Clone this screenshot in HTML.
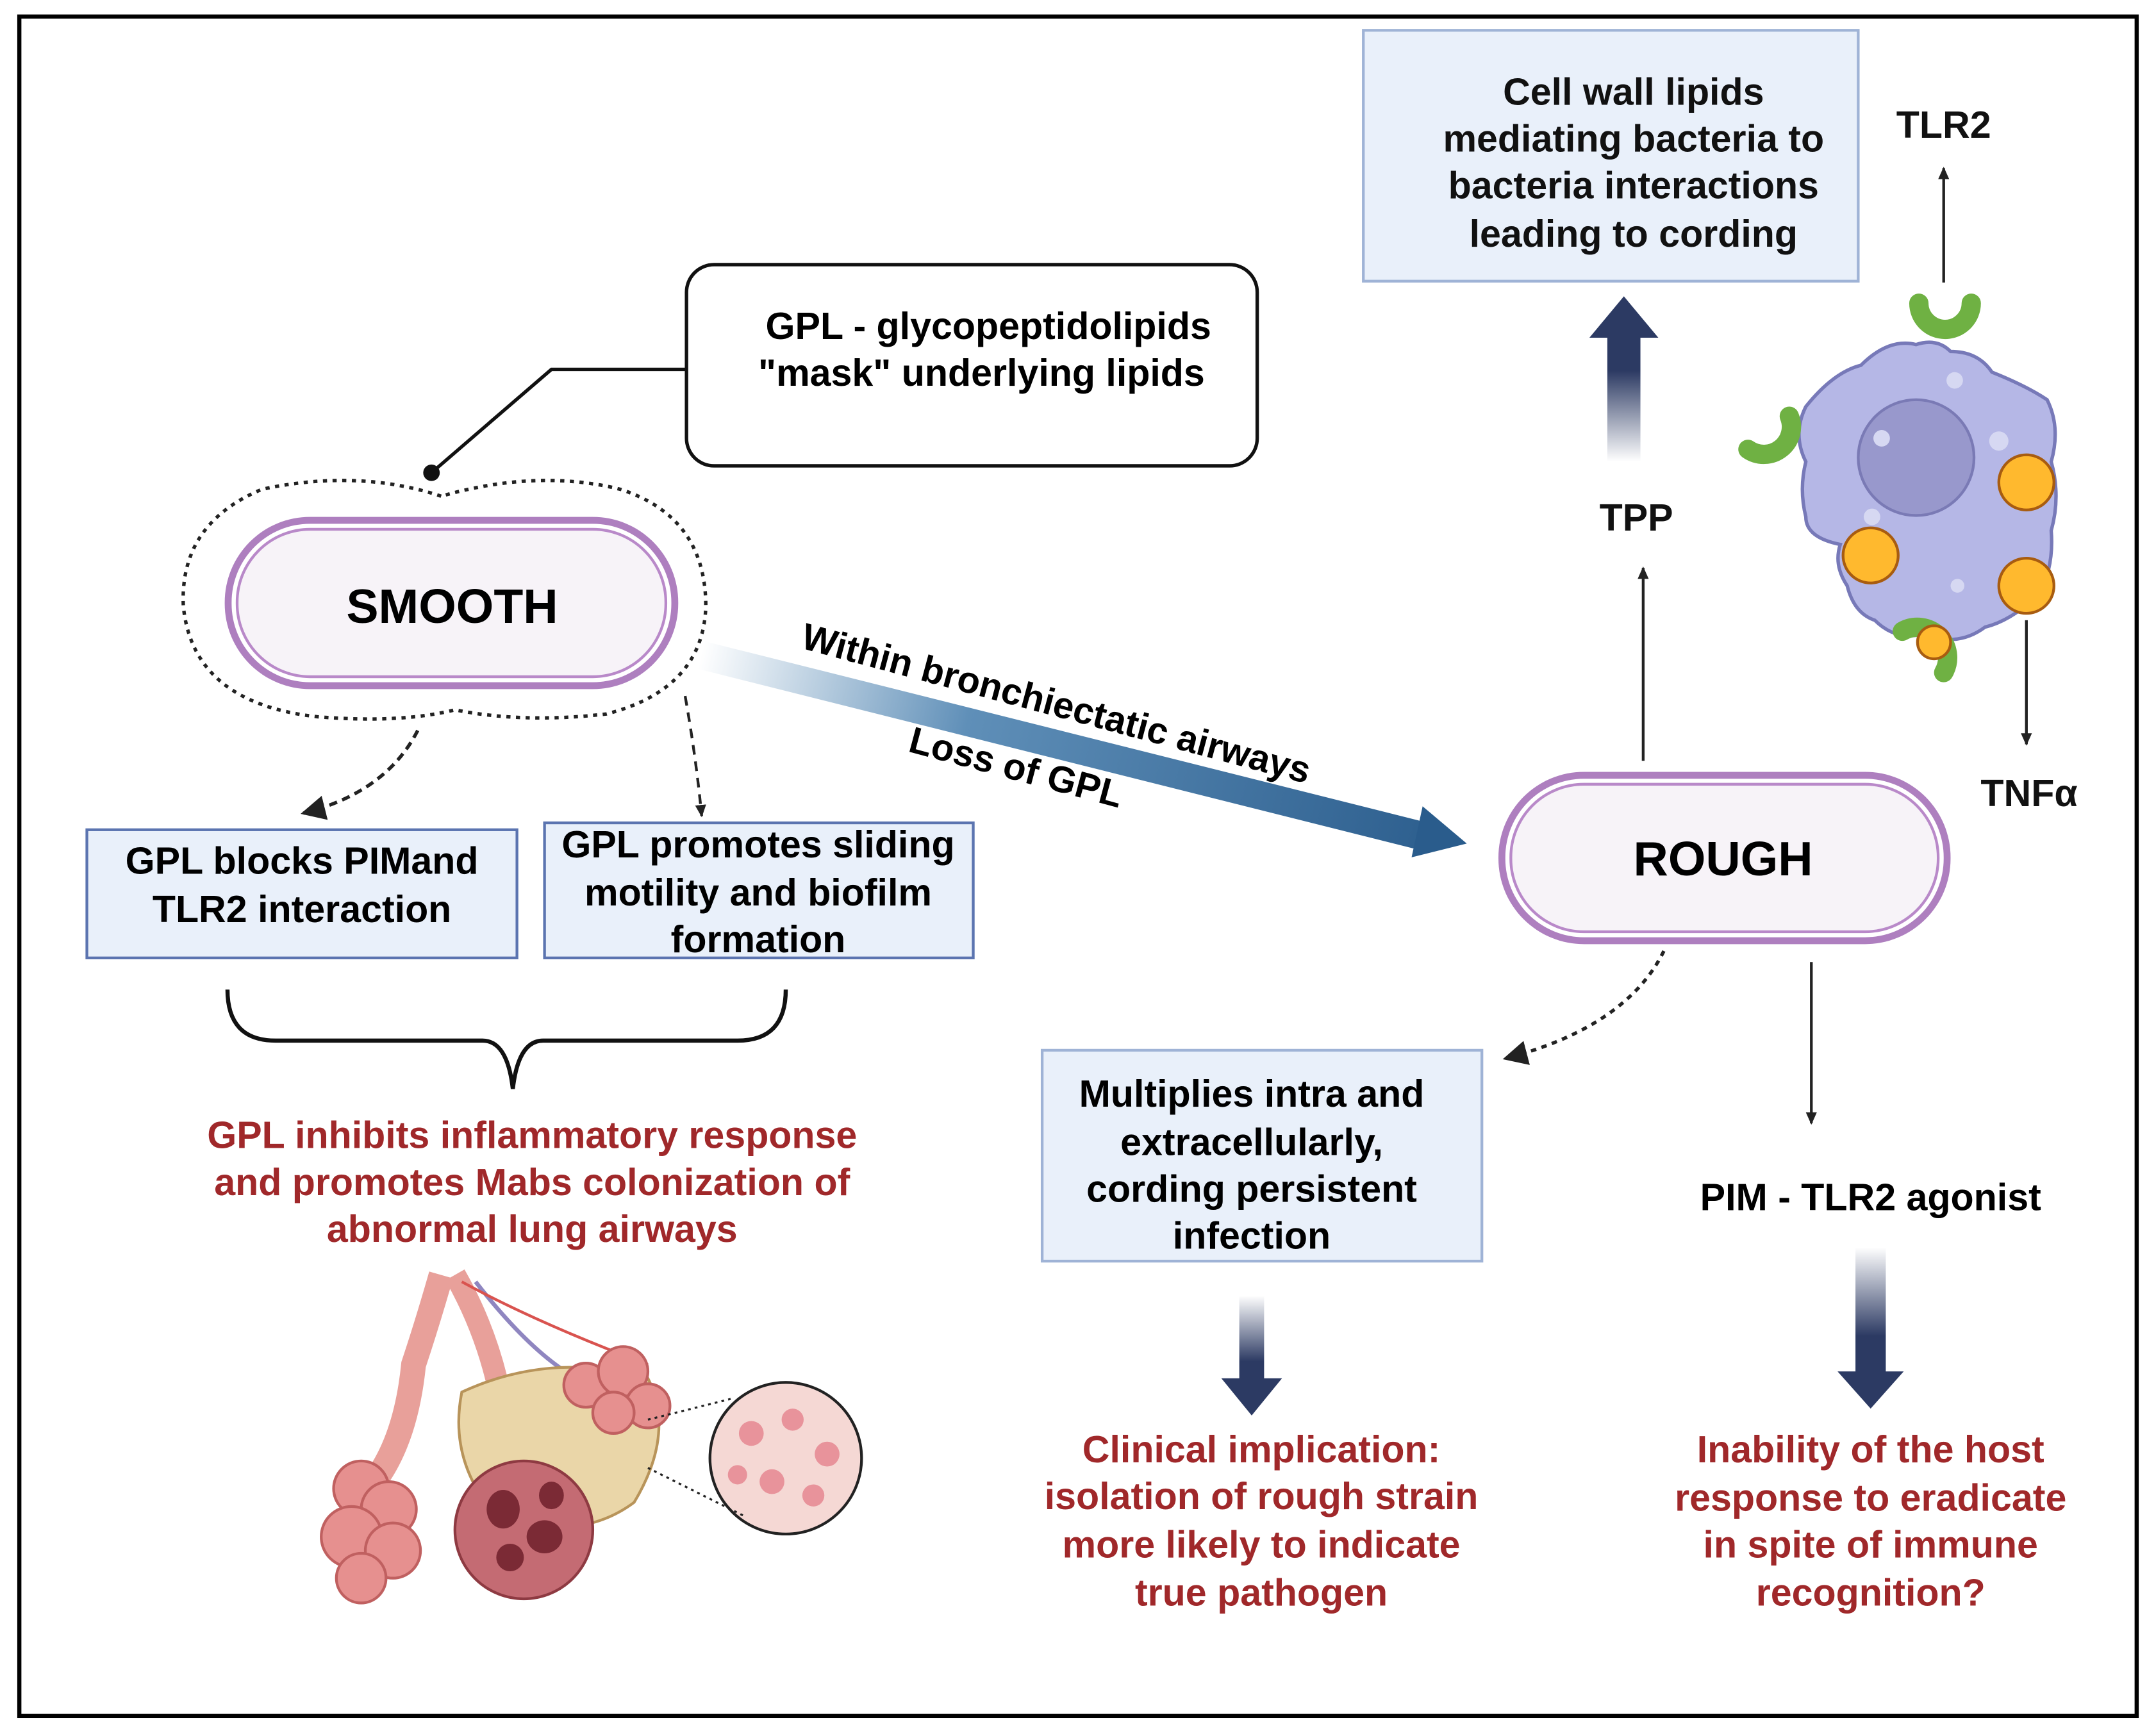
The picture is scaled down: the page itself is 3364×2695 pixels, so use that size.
<!DOCTYPE html>
<html><head><meta charset="utf-8"><style>
html,body{margin:0;padding:0;background:#fff;}
svg{display:block;}
text{font-family:"Liberation Sans",sans-serif;font-weight:bold;}
</style></head><body>
<svg width="3364" height="2695" viewBox="0 0 1564 1253" xmlns="http://www.w3.org/2000/svg">
<defs>
<linearGradient id="gup" x1="0" y1="1" x2="0" y2="0"><stop offset="0" stop-color="#fff"/><stop offset="0.55" stop-color="#2c3a63"/><stop offset="1" stop-color="#2c3a63"/></linearGradient>
<linearGradient id="gdn" x1="0" y1="0" x2="0" y2="1"><stop offset="0" stop-color="#fff"/><stop offset="0.55" stop-color="#2c3a63"/><stop offset="1" stop-color="#2c3a63"/></linearGradient>
<linearGradient id="gdiag" x1="510" y1="470" x2="1062" y2="610" gradientUnits="userSpaceOnUse"><stop offset="0" stop-color="#fff"/><stop offset="0.35" stop-color="#5f8fb8"/><stop offset="1" stop-color="#2a5c8c"/></linearGradient>
<marker id="ah" markerWidth="10" markerHeight="10" refX="8" refY="5" orient="auto" markerUnits="userSpaceOnUse"><path d="M0,1 L9,5 L0,9 Z" fill="#222"/></marker>
<marker id="ahb" markerWidth="20" markerHeight="20" refX="16" refY="9" orient="auto" markerUnits="userSpaceOnUse"><path d="M0,0 L18,9 L0,18 Z" fill="#222"/></marker>
</defs>
<rect x="14" y="12" width="1536" height="1233" fill="#fff" stroke="#000" stroke-width="3"/>

<rect x="989" y="22" width="359" height="182" fill="#e9f0fa" stroke="#9fb3d6" stroke-width="2"/>
<g font-size="27.5" text-anchor="middle" fill="#111">
<text x="1185" y="76">Cell wall lipids</text>
<text x="1185" y="110">mediating bacteria to</text>
<text x="1185" y="144">bacteria interactions</text>
<text x="1185" y="179">leading to cording</text>
<text x="1410" y="100">TLR2</text>
<text x="1187" y="385">TPP</text>
<text x="1472" y="585">TNFα</text>
</g>
<line x1="1410" y1="205" x2="1410" y2="122" stroke="#222" stroke-width="2" marker-end="url(#ah)"/>
<line x1="1192" y1="552" x2="1192" y2="412" stroke="#222" stroke-width="2" marker-end="url(#ah)"/>
<line x1="1470" y1="450" x2="1470" y2="540" stroke="#222" stroke-width="2" marker-end="url(#ah)"/>
<path d="M1166,335 L1166,245 L1153,245 L1178,215 L1203,245 L1190,245 L1190,335 Z" fill="url(#gup)"/>

<path d="M1310,295 Q1330,270 1350,265 Q1370,245 1390,250 Q1405,245 1415,255 Q1435,255 1445,270 Q1470,280 1485,290 Q1495,310 1488,335 Q1495,360 1488,385 Q1490,410 1480,430 Q1460,450 1440,455 Q1420,470 1395,460 Q1375,465 1360,450 Q1345,445 1340,425 Q1330,410 1335,395 Q1310,390 1310,375 Q1305,355 1310,335 Q1300,315 1310,295 Z" fill="#b5b7e6" stroke="#7779b8" stroke-width="2.5"/>
<circle cx="1390" cy="332" r="42" fill="#9898cc" stroke="#7a7ab5" stroke-width="2"/>
<g fill="#d6d8f2"><circle cx="1365" cy="318" r="6"/><circle cx="1418" cy="276" r="6"/><circle cx="1450" cy="320" r="7"/><circle cx="1358" cy="375" r="6"/><circle cx="1420" cy="425" r="5"/></g>
<g fill="#ffb92e" stroke="#a85c10" stroke-width="2"><circle cx="1470" cy="350" r="20"/><circle cx="1357" cy="403" r="20"/><circle cx="1470" cy="425" r="20"/></g>
<g fill="none" stroke="#6fb143" stroke-width="14" stroke-linecap="round">
<path d="M1392,220 A19,19 0 0 0 1430,220"/>
<path d="M1298,302 A20,20 0 0 1 1268,326"/>
<path d="M1380,458 A22,22 0 0 1 1410,488"/>
</g>
<circle cx="1403" cy="466" r="12" fill="#ffb92e" stroke="#a85c10" stroke-width="2"/>

<rect x="498" y="192" width="414" height="146" rx="20" fill="#fff" stroke="#111" stroke-width="2.5"/>
<text x="717" y="246" font-size="27.5" text-anchor="middle">GPL - glycopeptidolipids</text>
<text x="712" y="280" font-size="27.5" text-anchor="middle">"mask" underlying lipids</text>
<polyline points="498,268 400,268 313,343" fill="none" stroke="#111" stroke-width="2.5"/>
<circle cx="313" cy="343" r="6" fill="#111"/>

<path d="M320,360 Q260,340 190,355 Q130,380 133,440 Q140,510 230,520 Q290,525 330,515 Q380,525 440,518 Q510,500 512,440 Q512,375 450,355 Q390,340 320,360 Z" fill="none" stroke="#222" stroke-width="2.5" stroke-dasharray="3,4"/>
<rect x="163" y="375" width="329" height="125" rx="62" fill="#ae7fbf"/>
<rect x="168" y="380" width="319" height="115" rx="57" fill="#fff"/>
<rect x="172" y="384" width="311" height="107" rx="53" fill="#f7f3f8" stroke="#b989c9" stroke-width="2"/>
<text x="328" y="452" font-size="35" text-anchor="middle">SMOOTH</text>
<path d="M303,530 Q280,575 220,590" fill="none" stroke="#222" stroke-width="2.5" stroke-dasharray="6,4" marker-end="url(#ahb)"/>
<path d="M497,505 Q505,550 509,592" fill="none" stroke="#222" stroke-width="2" stroke-dasharray="7,5" marker-end="url(#ah)"/>

<rect x="63" y="602" width="312" height="93" fill="#e9f0fa" stroke="#5b74b0" stroke-width="2"/>
<text x="219" y="634" font-size="27.5" text-anchor="middle">GPL blocks PIMand</text>
<text x="219" y="669" font-size="27.5" text-anchor="middle">TLR2 interaction</text>
<rect x="395" y="597" width="311" height="98" fill="#e9f0fa" stroke="#5b74b0" stroke-width="2"/>
<text x="550" y="622" font-size="27.5" text-anchor="middle">GPL promotes sliding</text>
<text x="550" y="657" font-size="27.5" text-anchor="middle">motility and biofilm</text>
<text x="550" y="691" font-size="27.5" text-anchor="middle">formation</text>

<path d="M165,718 Q165,755 200,755 L350,755 Q368,755 372,790 Q376,755 394,755 L535,755 Q570,755 570,718" fill="none" stroke="#111" stroke-width="3"/>
<g font-size="27.5" text-anchor="middle" fill="#a0282a">
<text x="386" y="833">GPL inhibits inflammatory response</text>
<text x="386" y="867">and promotes Mabs colonization of</text>
<text x="386" y="901">abnormal lung airways</text>
</g>

<g>
<path d="M320,925 Q310,960 300,990 Q295,1040 275,1070" fill="none" stroke="#e8a09a" stroke-width="18"/>
<path d="M330,925 Q350,960 360,1000" fill="none" stroke="#e8a09a" stroke-width="16"/>
<path d="M345,930 Q380,975 410,995" fill="none" stroke="#8f86c0" stroke-width="3"/>
<path d="M335,930 Q390,960 470,990" fill="none" stroke="#d9534f" stroke-width="2"/>
<g fill="#e6908f" stroke="#c06060" stroke-width="2">
<circle cx="262" cy="1080" r="20"/><circle cx="282" cy="1095" r="20"/><circle cx="255" cy="1115" r="22"/><circle cx="285" cy="1125" r="20"/><circle cx="262" cy="1145" r="18"/>
</g>
<path d="M335,1010 Q400,980 470,1000 Q490,1040 460,1090 Q420,1120 360,1100 Q325,1060 335,1010 Z" fill="#ead6a8" stroke="#b8945a" stroke-width="2"/>
<g fill="#e6908f" stroke="#c06060" stroke-width="2">
<circle cx="425" cy="1005" r="16"/><circle cx="452" cy="995" r="18"/><circle cx="470" cy="1020" r="16"/><circle cx="445" cy="1025" r="15"/>
</g>
<ellipse cx="380" cy="1110" rx="50" ry="50" fill="#c46b73" stroke="#8e3a42" stroke-width="2"/>
<g fill="#7b2a35"><ellipse cx="365" cy="1095" rx="12" ry="14"/><ellipse cx="395" cy="1115" rx="13" ry="12"/><ellipse cx="370" cy="1130" rx="10" ry="10"/><ellipse cx="400" cy="1085" rx="9" ry="10"/></g>
<circle cx="570" cy="1058" r="55" fill="#f5d8d4" stroke="#222" stroke-width="2"/>
<g fill="#e8939b"><circle cx="545" cy="1040" r="9"/><circle cx="575" cy="1030" r="8"/><circle cx="600" cy="1055" r="9"/><circle cx="560" cy="1075" r="9"/><circle cx="590" cy="1085" r="8"/><circle cx="535" cy="1070" r="7"/></g>
<line x1="470" y1="1030" x2="530" y2="1015" stroke="#222" stroke-width="1.5" stroke-dasharray="2,3"/>
<line x1="470" y1="1065" x2="540" y2="1100" stroke="#222" stroke-width="1.5" stroke-dasharray="2,3"/>
</g>

<path d="M510,465 L1040,598 L1035,618 L505,485 Z" fill="url(#gdiag)"/>
<path d="M1032,585 L1064,612 L1024,622 Z" fill="#2a5c8c"/>
<text x="580" y="470" font-size="27" transform="rotate(15 580 470)">Within bronchiectatic airways</text>
<text x="658" y="545" font-size="27" transform="rotate(15 658 545)">Loss of GPL</text>

<rect x="1087" y="560" width="328" height="125" rx="62" fill="#ae7fbf"/>
<rect x="1092" y="565" width="318" height="115" rx="57" fill="#fff"/>
<rect x="1096" y="569" width="310" height="107" rx="53" fill="#f7f3f8" stroke="#b989c9" stroke-width="2"/>
<text x="1250" y="635" font-size="35" text-anchor="middle">ROUGH</text>
<path d="M1207,690 Q1180,745 1092,768" fill="none" stroke="#222" stroke-width="2.5" stroke-dasharray="4,4" marker-end="url(#ahb)"/>
<line x1="1314" y1="698" x2="1314" y2="815" stroke="#222" stroke-width="2" marker-end="url(#ah)"/>
<text x="1357" y="878" font-size="27.5" text-anchor="middle">PIM - TLR2 agonist</text>

<rect x="756" y="762" width="319" height="153" fill="#e9f0fa" stroke="#9fb3d6" stroke-width="2"/>
<g font-size="27.5" text-anchor="middle">
<text x="908" y="803">Multiplies intra and</text>
<text x="908" y="838">extracellularly,</text>
<text x="908" y="872">cording persistent</text>
<text x="908" y="906">infection</text>
</g>
<path d="M899,940 L899,1000 L886,1000 L908,1027 L930,1000 L917,1000 L917,940 Z" fill="url(#gdn)"/>
<path d="M1346,905 L1346,995 L1333,995 L1357,1022 L1381,995 L1368,995 L1368,905 Z" fill="url(#gdn)"/>
<g font-size="27.5" text-anchor="middle" fill="#a0282a">
<text x="915" y="1061">Clinical implication:</text>
<text x="915" y="1095">isolation of rough strain</text>
<text x="915" y="1130">more likely to indicate</text>
<text x="915" y="1165">true pathogen</text>
<text x="1357" y="1061">Inability of the host</text>
<text x="1357" y="1096">response to eradicate</text>
<text x="1357" y="1130">in spite of immune</text>
<text x="1357" y="1165">recognition?</text>
</g>
</svg>
</body></html>
